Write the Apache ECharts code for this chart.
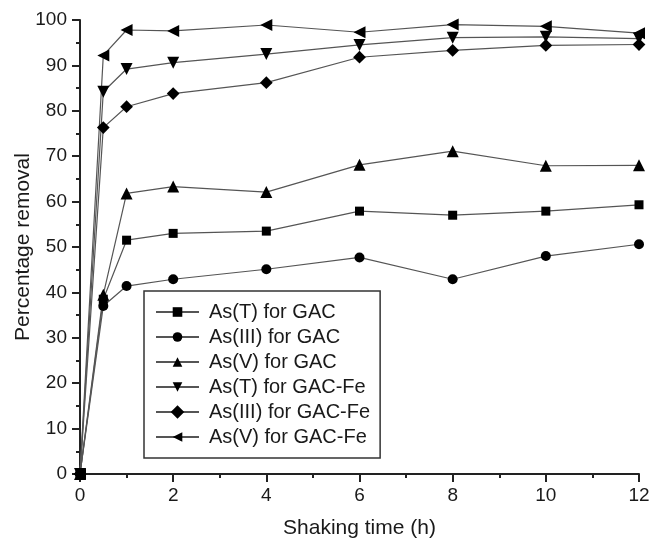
<!DOCTYPE html>
<html>
<head>
<meta charset="utf-8">
<script src="https://cdn.jsdelivr.net/npm/echarts@6/dist/echarts.min.js"></script>
<style>
html,body{margin:0;padding:0;background:#fff;}
#chart{width:653px;height:538px;}
</style>
</head>
<body>
<div id="chart"></div>
<script>
const times = [0, 0.5, 1, 2, 4, 6, 8, 10, 12];
const seriesNames = ['As(T) for GAC', 'As(III) for GAC', 'As(V) for GAC', 'As(T) for GAC-Fe', 'As(III) for GAC-Fe', 'As(V) for GAC-Fe'];
const asT_GAC    = [0, 38.5, 51.5, 53.0, 53.5, 57.9, 57.0, 57.9, 59.3];
const asIII_GAC  = [0, 37.0, 41.4, 42.9, 45.1, 47.7, 42.9, 48.0, 50.6];
const asV_GAC    = [0, 39.5, 61.8, 63.3, 62.1, 68.1, 71.1, 67.9, 68.0];
const asT_GACFe  = [0, 84.2, 89.2, 90.6, 92.5, 94.5, 96.1, 96.3, 95.9];
const asIII_GACFe= [0, 76.3, 80.9, 83.8, 86.2, 91.8, 93.3, 94.4, 94.6];
const asV_GACFe  = [0, 92.2, 97.8, 97.6, 98.9, 97.3, 99.0, 98.6, 97.1];

const allData = [asT_GAC, asIII_GAC, asV_GAC, asT_GACFe, asIII_GACFe, asV_GACFe];
const symbols = ['rect', 'circle', 'triangle', 'triangle', 'rect', 'triangle'];
const rotations = [0, 0, 0, 180, 45, 90];
const sizes = [9, 10, 12, 12, 9, 12];

const font = 'Liberation Sans, Arial, sans-serif';
const chart = echarts.init(document.getElementById('chart'));

const series = allData.map((d, i) => ({
  name: seriesNames[i],
  type: 'line',
  data: times.map((t, j) => [t, d[j]]),
  symbol: symbols[i],
  symbolRotate: rotations[i],
  symbolSize: sizes[i],
  showAllSymbol: true,
  lineStyle: { color: '#555', width: 1.2 },
  itemStyle: { color: '#000', borderWidth: 0 },
  emphasis: { disabled: true },
  animation: false
}));

chart.setOption({
  backgroundColor: '#fff',
  animation: false,
  grid: { left: 80, right: 14, top: 20, bottom: 64, containLabel: false, outerBoundsMode: 'none' },
  legend: {
    orient: 'vertical',
    left: 144,
    top: 291,
    padding: [11, 10, 11, 11],
    itemWidth: 43,
    itemHeight: 12,
    itemGap: 5,
    borderColor: '#333',
    borderWidth: 1.5,
    backgroundColor: '#fff',
    textStyle: { fontFamily: font, fontSize: 20, color: '#1a1a1a', padding: [0, 0, 0, 5] },
    data: seriesNames
  },
  xAxis: {
    type: 'value',
    min: 0, max: 12, interval: 2,
    name: 'Shaking time (h)',
    nameLocation: 'middle',
    nameGap: 44,
    nameMoveOverlap: false,
    nameTextStyle: { fontFamily: font, fontSize: 21, color: '#1a1a1a' },
    axisLine: { lineStyle: { color: '#222', width: 2 } },
    axisTick: { show: true, inside: false, length: 8, lineStyle: { color: '#222', width: 2 } },
    minorTick: { show: true, splitNumber: 2, length: 4, lineStyle: { color: '#222', width: 2 } },
    axisLabel: { fontFamily: font, fontSize: 19, color: '#1a1a1a', margin: 12 },
    splitLine: { show: false }
  },
  yAxis: {
    type: 'value',
    min: 0, max: 100, interval: 10,
    name: 'Percentage removal',
    nameLocation: 'middle',
    nameGap: 46,
    nameMoveOverlap: false,
    nameTextStyle: { fontFamily: font, fontSize: 21, color: '#1a1a1a' },
    axisLine: { show: true, lineStyle: { color: '#222', width: 2 } },
    axisTick: { show: true, inside: false, length: 8, lineStyle: { color: '#222', width: 2 } },
    minorTick: { show: true, splitNumber: 2, length: 4, lineStyle: { color: '#222', width: 2 } },
    axisLabel: { fontFamily: font, fontSize: 19, color: '#1a1a1a', margin: 13 },
    splitLine: { show: false }
  },
  series: series
});
</script>
</body>
</html>
